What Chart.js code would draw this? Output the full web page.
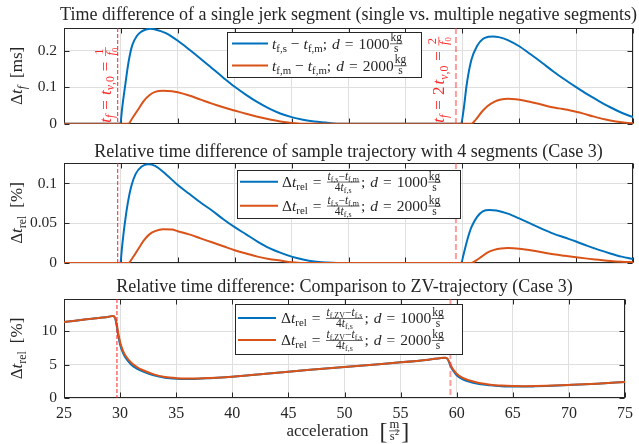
<!DOCTYPE html>
<html>
<head>
<meta charset="utf-8">
<script src="https://cdn.jsdelivr.net/npm/chart.js@4.4.0/dist/chart.umd.min.js"></script>
<style>
  html, body { margin: 0; padding: 0; background: #fff; }
  #wrap { position: relative; width: 639px; height: 444px; overflow: hidden; }
  .pane { position: absolute; left: 0; width: 639px; }
</style>
</head>
<body>
<div id="wrap">
  <div class="pane" style="top:0;height:140px"><canvas id="c1"></canvas></div>
  <div class="pane" style="top:140px;height:140px"><canvas id="c2"></canvas></div>
  <div class="pane" style="top:270px;height:174px"><canvas id="c3"></canvas></div>
</div>
<script>
// ---- data ----
const accelTicks = [25, 30, 35, 40, 45, 50, 55, 60, 65, 70, 75];
const tV0 = 29.72; // 1/f0 in m/s^2

const p1Ticks = [0, 0.1, 0.2];
const p2Ticks = [0, 0.05, 0.1];
const p3Ticks = [0, 5, 10];

const p1BlueX = [25, 29.95, 30.1, 30.2, 30.4, 30.6, 30.8, 31.0, 31.4, 31.8, 32.2, 32.6, 33.0, 33.5, 34, 35, 36, 37, 38, 39,
  40, 41, 42, 43, 44, 45, 46, 47, 48, 49, 59.9, 60.1, 60.4, 60.8, 61.3, 61.8, 62.3, 62.7, 63.2, 64,
  65, 66, 67, 68, 69, 70, 71, 72, 73, 74, 75];
const p1BlueY = [0, 0, 0.04, 0.065, 0.11, 0.155, 0.19, 0.215, 0.24, 0.252, 0.258, 0.26, 0.258, 0.2535, 0.247, 0.227, 0.203, 0.178, 0.152, 0.126,
  0.101, 0.079, 0.059, 0.042, 0.028, 0.018, 0.011, 0.006, 0.003, 0, 0, 0.035, 0.11, 0.175, 0.213, 0.232, 0.238, 0.239, 0.237, 0.229,
  0.212, 0.19, 0.167, 0.143, 0.121, 0.1, 0.08, 0.062, 0.045, 0.03, 0.018];
const p1OrangeX = [25, 30.65, 31, 31.5, 32, 32.5, 33, 33.7, 34.5, 35, 36, 37, 38, 39, 40, 41, 42, 43, 44, 45, 46,
  60.8, 61.2, 61.7, 62.2, 62.8, 63.4, 64, 64.7, 65.5, 66.5, 67.5, 68.5, 69.5, 70.5, 71.5, 72.5, 73.5, 74.5, 75];
const p1OrangeY = [0, 0, 0.015, 0.038, 0.062, 0.078, 0.087, 0.0905, 0.089, 0.086, 0.077, 0.066, 0.055, 0.045, 0.036, 0.027, 0.019, 0.012, 0.006, 0.002, 0,
  0, 0.012, 0.032, 0.048, 0.06, 0.066, 0.068, 0.067, 0.063, 0.056, 0.048, 0.042, 0.036, 0.029, 0.02, 0.012, 0.006, 0.002, 0.001];

const p2BlueX = [25, 29.95, 30.1, 30.3, 30.6, 30.9, 31.3, 31.8, 32.4, 33, 34, 35, 36, 37, 38, 39, 40, 41, 42, 43,
  44, 45, 46, 47, 48, 49, 59.9, 60.1, 60.4, 60.8, 61.3, 61.8, 62.4, 63, 64, 65, 66, 67, 68, 69, 70, 71, 72, 73, 74, 75];
const p2BlueY = [0, 0, 0.02, 0.045, 0.075, 0.096, 0.112, 0.121, 0.124, 0.122, 0.111, 0.098, 0.087, 0.076, 0.066, 0.055, 0.045, 0.036, 0.027, 0.019,
  0.013, 0.008, 0.0045, 0.002, 0.0007, 0, 0, 0.01, 0.027, 0.045, 0.058, 0.065, 0.0666, 0.066, 0.062, 0.056, 0.0495, 0.043, 0.037, 0.032, 0.027, 0.0215, 0.0165, 0.012, 0.008, 0.005];
const p2OrangeX = [25, 30.65, 31, 31.5, 32, 32.5, 33, 33.7, 34.5, 35, 36, 37, 38, 39, 40, 41, 42, 43, 44, 45, 46,
  60.8, 61.2, 61.7, 62.2, 62.8, 63.4, 64, 65, 66, 67, 68, 69, 70, 71, 72, 73, 74, 75];
const p2OrangeY = [0, 0, 0.006, 0.017, 0.028, 0.036, 0.04, 0.0425, 0.042, 0.04, 0.036, 0.031, 0.026, 0.021, 0.016, 0.012, 0.008, 0.005, 0.003, 0.001, 0,
  0, 0.003, 0.008, 0.013, 0.0165, 0.0183, 0.0187, 0.018, 0.016, 0.0135, 0.011, 0.009, 0.0072, 0.0055, 0.004, 0.0025, 0.0015, 0.001];

const p3X = [25, 27, 29, 29.35, 29.55, 29.7, 29.85, 30, 30.25, 30.5, 31, 31.5, 32, 33, 34, 35, 36, 37, 38, 40,
  42.5, 45, 47.5, 50, 52.5, 55, 57.5, 59, 59.2, 59.4, 59.6, 59.8, 60, 60.5, 61, 62, 63, 64, 65, 66, 67, 68, 70, 72.5, 75];
const p3BlueY = [11.4, 11.8, 12.2, 12.3, 12.0, 10.8, 9.2, 8.0, 6.8, 6.0, 5.0, 4.4, 4.0, 3.4, 3.05, 2.9, 2.85, 2.88, 2.98, 3.2,
  3.55, 3.95, 4.3, 4.65, 5.0, 5.35, 5.75, 6.05, 5.8, 5.0, 4.3, 3.85, 3.4, 2.85, 2.5, 2.1, 1.9, 1.78, 1.72, 1.72, 1.75, 1.8, 1.95, 2.15, 2.4];
const p3OrangeY = [11.4, 11.8, 12.2, 12.3, 12.05, 11.1, 9.6, 8.4, 7.1, 6.3, 5.3, 4.65, 4.2, 3.55, 3.15, 2.98, 2.92, 2.93, 3.0, 3.2,
  3.55, 3.95, 4.3, 4.65, 5.0, 5.35, 5.75, 6.05, 5.85, 5.2, 4.5, 4.05, 3.65, 3.05, 2.7, 2.25, 2.0, 1.87, 1.8, 1.78, 1.79, 1.83, 1.96, 2.15, 2.4];

// ---- style ----
const SERIF = "'Liberation Serif', 'DejaVu Serif', serif";
const ink = '#262626';
const gridColor = '#dfdfdf';
const blue = '#0072bd';
const orange = '#d95319';

// small math-ish text runs
const I = t => ({ t, i: true });
const R = t => ({ t });
const Sub = (...p) => ({ sub: p });
const Sup = (...p) => ({ sup: p });
const Fr = (num, den) => ({ num, den });
const Sp = w => ({ sp: w });
const EQ = [Sp(5), R('='), Sp(5)];
const kgs = d => [R(';'), Sp(5), I('d'), ...EQ, R(d), Fr([R('kg')], [R('s')])];

function rich(ctx, parts, x, y, size, draw) {
  let cx = x;
  for (const p of parts) {
    if (p.t !== undefined) {
      ctx.font = (p.i ? 'italic ' : '') + size.toFixed(2) + 'px ' + SERIF;
      if (draw) ctx.fillText(p.t, cx, y);
      cx += ctx.measureText(p.t).width;
    } else if (p.sub) {
      cx += rich(ctx, p.sub, cx, y + size * 0.22, size * 0.7, draw);
    } else if (p.sup) {
      cx += rich(ctx, p.sup, cx, y - size * 0.4, size * 0.7, draw);
    } else if (p.num) {
      const fs = size * 0.74;
      const wn = rich(ctx, p.num, 0, 0, fs, false);
      const wd = rich(ctx, p.den, 0, 0, fs, false);
      const w = Math.max(wn, wd) + 2;
      const bar = y - size * 0.3;
      if (draw) {
        rich(ctx, p.num, cx + 1 + (w - 2 - wn) / 2, bar - fs * 0.22, fs, true);
        rich(ctx, p.den, cx + 1 + (w - 2 - wd) / 2, bar + fs * 0.75, fs, true);
        ctx.fillRect(cx + 0.5, bar - 0.35, w - 1, 0.7);
      }
      cx += w + 1;
    } else if (p.sp) {
      cx += p.sp;
    }
  }
  return cx - x;
}

const markers = [
  { v: tV0, color: '#ff2020', width: 1, dash: [4, 2] },
  { v: 2 * tV0, color: 'rgba(255, 60, 60, 0.5)', width: 2, dash: [6, 3] },
];

const decor = {
  id: 'decor',
  beforeDatasetsDraw(chart, args, o) {
    const { ctx, chartArea: a, scales: { x, y } } = chart;
    ctx.save();
    ctx.strokeStyle = ink;
    ctx.lineWidth = 1;
    const L = Math.round(a.left) + 0.5, T = Math.round(a.top) + 0.5;
    const Rr = Math.round(a.right) - 0.5, B = Math.round(a.bottom) - 0.5;
    ctx.strokeRect(L, T, Rr - L, B - T);
    ctx.beginPath();
    accelTicks.forEach(v => {
      const px = Math.round(x.getPixelForValue(v)) + 0.5;
      ctx.moveTo(px, B); ctx.lineTo(px, B - 5);
      ctx.moveTo(px, T); ctx.lineTo(px, T + 5);
    });
    o.yticks.forEach(v => {
      const py = Math.round(y.getPixelForValue(v)) + 0.5;
      ctx.moveTo(L, py); ctx.lineTo(L + 5, py);
      ctx.moveTo(Rr, py); ctx.lineTo(Rr - 5, py);
    });
    ctx.stroke();
    ctx.restore();
  },
  afterDatasetsDraw(chart, args, o) {
    const { ctx, chartArea: a, scales: { x } } = chart;
    ctx.save();
    markers.forEach(m => {
      const px = x.getPixelForValue(m.v);
      ctx.strokeStyle = m.color;
      ctx.lineWidth = m.width;
      ctx.setLineDash(m.dash);
      ctx.beginPath();
      ctx.moveTo(px, a.top);
      ctx.lineTo(px, a.bottom);
      ctx.stroke();
    });
    ctx.setLineDash([]);
    ctx.textAlign = 'left';
    ctx.textBaseline = 'alphabetic';

    // rotated red notes
    (o.notes || []).forEach(n => {
      ctx.save();
      ctx.fillStyle = '#ff2a2a';
      ctx.translate(x.getPixelForValue(n.v) + n.dx, a.bottom - 1);
      ctx.rotate(-Math.PI / 2);
      rich(ctx, n.parts, 0, 0, 17, true);
      ctx.restore();
    });

    // legend
    const lg = o.legend;
    const [bx0, by0, bx1, by1] = lg.box;
    ctx.fillStyle = '#fff';
    ctx.fillRect(bx0, by0, bx1 - bx0, by1 - by0);
    ctx.strokeStyle = ink;
    ctx.lineWidth = 1;
    ctx.strokeRect(bx0 + 0.5, by0 + 0.5, bx1 - bx0, by1 - by0);
    chart.data.datasets.forEach((ds, i) => {
      const ry = lg.rows[i];
      ctx.strokeStyle = ds.borderColor;
      ctx.lineWidth = 2;
      ctx.beginPath();
      ctx.moveTo(lg.line[0], ry);
      ctx.lineTo(lg.line[1], ry);
      ctx.stroke();
      ctx.fillStyle = ink;
      rich(ctx, lg.parts[i], lg.textX, ry + 5, 15.5, true);
    });
    ctx.restore();
  },
  afterDraw(chart, args, o) {
    const { ctx, chartArea: a } = chart;
    const cx = (a.left + a.right) / 2;
    ctx.save();
    ctx.fillStyle = ink;
    ctx.textBaseline = 'alphabetic';
    // title
    ctx.textAlign = 'center';
    ctx.font = '18px ' + SERIF;
    ctx.fillText(o.title, cx, o.titleY);
    ctx.textAlign = 'left';
    // y label
    const w = rich(ctx, o.ylabel, 0, 0, 17, false);
    ctx.save();
    ctx.translate(o.ylabX, (a.top + a.bottom) / 2);
    ctx.rotate(-Math.PI / 2);
    rich(ctx, o.ylabel, -w / 2, 0, 17, true);
    ctx.restore();
    // x label: word, then bracketed unit
    if (o.xlabel) {
      const yb = o.xlabY;
      ctx.textAlign = 'right';
      ctx.font = '17px ' + SERIF;
      ctx.fillText(o.xlabel, cx + 24, yb);
      ctx.textAlign = 'left';
      ctx.font = '24px ' + SERIF;
      const bw = ctx.measureText('[').width;
      let bx = cx + 35;
      ctx.fillText('[', bx, yb + 3);
      bx += bw + 1;
      const fw = rich(ctx, [Fr([R('m')], [R('s'), Sup(R('2'))])], bx, yb, 17, true);
      ctx.font = '24px ' + SERIF;
      ctx.fillText(']', bx + fw, yb + 3);
    }
    ctx.restore();
  },
};

const pts = (xs, ys) => xs.map((v, i) => ({ x: v, y: ys[i] }));

function line(label, xs, ys, color, order) {
  return {
    label,
    data: pts(xs, ys),
    borderColor: color,
    backgroundColor: color,
    borderWidth: 2,
    pointRadius: 0,
    cubicInterpolationMode: 'monotone',
    order,
  };
}

function panel(id, datasets, cfg) {
  return new Chart(document.getElementById(id), {
    type: 'line',
    data: { datasets },
    options: {
      responsive: true,
      maintainAspectRatio: false,
      animation: false,
      layout: { padding: { top: cfg.top, right: 6, left: 0, bottom: 0 } },
      plugins: { legend: { display: false }, tooltip: { enabled: false }, decor: cfg },
      scales: {
        x: {
          type: 'linear', min: 25, max: 75,
          afterBuildTicks: s => { s.ticks = accelTicks.map(v => ({ value: v })); },
          afterFit: s => { s.height = cfg.xh; },
          ticks: { display: !!cfg.xlabel, padding: 6, font: { family: SERIF, size: 16 }, color: ink, maxRotation: 0 },
          grid: { color: gridColor, drawTicks: false },
          border: { display: false },
        },
        y: {
          min: 0, max: cfg.ymax,
          afterBuildTicks: s => { s.ticks = cfg.yticks.map(v => ({ value: v })); },
          afterFit: s => { s.width = 64; },
          ticks: { padding: 7, font: { family: SERIF, size: 15.5 }, color: ink, callback: v => String(v) },
          grid: { color: gridColor, drawTicks: false },
          border: { display: false },
        },
      },
    },
    plugins: [decor],
  });
}

const dtRel = [R('Δ'), I('t'), Sub(R('rel'))];
const fracSM = Fr([I('t'), Sub(R('f,s')), R('−'), I('t'), Sub(R('f,m'))], [R('4'), I('t'), Sub(R('f,s'))]);
const fracZV = Fr([I('t'), Sub(R('f,ZV')), R('−'), I('t'), Sub(R('f,s'))], [R('4'), I('t'), Sub(R('f,s'))]);

panel('c1', [
  line('t_f,s − t_f,m; d = 1000 kg/s', p1BlueX, p1BlueY, blue, 1),
  line('t_f,m − t_f,m; d = 2000 kg/s', p1OrangeX, p1OrangeY, orange, 0),
], {
  top: 28, xh: 12, ymax: 0.262, yticks: p1Ticks,
  title: 'Time difference of a single jerk segment (single vs. multiple negative segments)', titleY: 20,
  ylabel: [R('Δ'), I('t'), Sub(I('f')), Sp(8), R('[ms]')], ylabX: 22,
  legend: {
    box: [227, 32, 421, 77], rows: [43.5, 65.5], line: [232, 268], textX: 272,
    parts: [
      [I('t'), Sub(R('f,s')), Sp(4), R('−'), Sp(4), I('t'), Sub(R('f,m')), ...kgs('1000')],
      [I('t'), Sub(R('f,m')), Sp(4), R('−'), Sp(4), I('t'), Sub(R('f,m')), ...kgs('2000')],
    ],
  },
  notes: [
    { v: tV0, dx: -7, parts: [I('t'), Sub(I('f')), ...EQ, I('t'), Sub(I('v'), R(',0')), ...EQ, Fr([R('1')], [I('f'), Sub(R('0'))])] },
    { v: 2 * tV0, dx: -12, parts: [I('t'), Sub(I('f')), ...EQ, R('2'), Sp(2), I('t'), Sub(I('v'), R(',0')), ...EQ, Fr([R('2')], [I('f'), Sub(R('0'))])] },
  ],
});

panel('c2', [
  line('Δt_rel = (t_f,s − t_f,m)/(4 t_f,s); d = 1000 kg/s', p2BlueX, p2BlueY, blue, 1),
  line('Δt_rel = (t_f,s − t_f,m)/(4 t_f,s); d = 2000 kg/s', p2OrangeX, p2OrangeY, orange, 0),
], {
  top: 23, xh: 17, ymax: 0.1257, yticks: p2Ticks,
  title: 'Relative time difference of sample trajectory with 4 segments (Case 3)', titleY: 17,
  ylabel: [...dtRel, Sp(8), R('[%]')], ylabX: 22,
  legend: {
    box: [237, 30, 460, 78], rows: [41.7, 65.7], line: [240, 278], textX: 282,
    parts: [
      [...dtRel, ...EQ, fracSM, ...kgs('1000')],
      [...dtRel, ...EQ, fracSM, ...kgs('2000')],
    ],
  },
});

panel('c3', [
  line('Δt_rel = (t_f,ZV − t_f,s)/(4 t_f,s); d = 1000 kg/s', p3X, p3BlueY, blue, 1),
  line('Δt_rel = (t_f,ZV − t_f,s)/(4 t_f,s); d = 2000 kg/s', p3X, p3OrangeY, orange, 0),
], {
  top: 29, xh: 46, ymax: 14.85, yticks: p3Ticks,
  title: 'Relative time difference: Comparison to ZV-trajectory (Case 3)', titleY: 22,
  ylabel: [...dtRel, Sp(8), R('[%]')], ylabX: 22,
  legend: {
    box: [235, 34, 462, 84], rows: [48, 70], line: [238, 276], textX: 281,
    parts: [
      [...dtRel, ...EQ, fracZV, ...kgs('1000')],
      [...dtRel, ...EQ, fracZV, ...kgs('2000')],
    ],
  },
  xlabel: 'acceleration', xlabY: 166,
});
</script>
</body>
</html>
